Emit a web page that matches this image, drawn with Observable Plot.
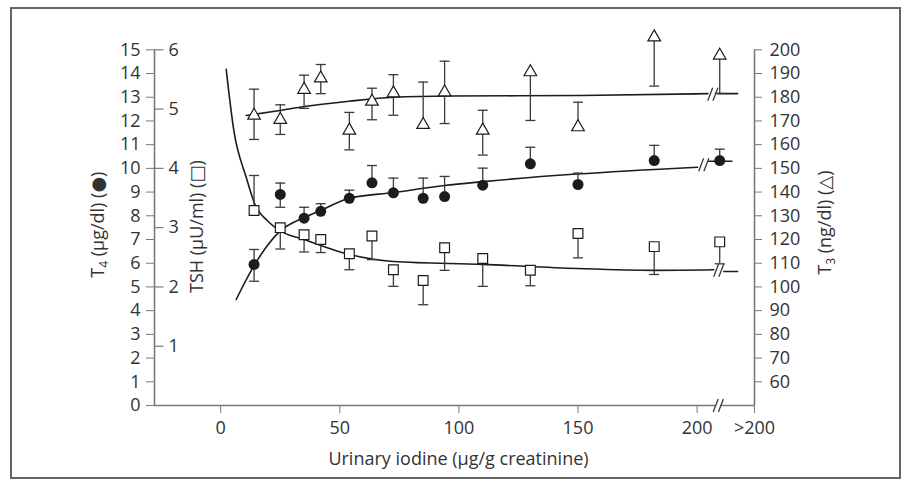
<!DOCTYPE html>
<html><head><meta charset="utf-8">
<script src="https://cdn.jsdelivr.net/npm/d3@7"></script>
<script src="https://cdn.jsdelivr.net/npm/@observablehq/plot@0.6"></script>
<style>
html,body{margin:0;padding:0;background:#fff;}
#wrap{position:relative;width:909px;height:486px;overflow:hidden;}
#border{position:absolute;left:10px;top:7px;width:887px;height:468px;border:2px solid #666;pointer-events:none;}
#chart svg{position:absolute;left:0;top:0;}
</style></head><body>
<div id="wrap"><div id="chart"></div><div id="border"></div></div>
<script>
// ---- data (x = urinary iodine, last group is ">200") ----
const xVals = [14, 25, 35, 42, 54, 63.5, 72.5, 85, 94, 110, 130, 150, 182, 209.5];

const t4   = [5.95, 8.90, 7.90, 8.19, 8.74, 9.39, 8.97, 8.74, 8.81, 9.29, 10.19, 9.32, 10.33, 10.33];
const t4Hi = [6.58, 9.38, 8.36, 8.51, 9.08, 10.12, 9.59, 9.59, 9.66, 10.01, 10.89, 9.80, 10.97, 10.81];
const t4Lo = [5.24, 8.36, null, null, null, null, null, null, null, null, null, null, null, null];

const tsh   = [3.29, 3.00, 2.88, 2.80, 2.56, 2.86, 2.29, 2.11, 2.66, 2.48, 2.28, 2.90, 2.68, 2.76];
const tshHi = [3.88, null, null, null, null, null, null, null, null, null, null, null, null, null];
const tshLo = [null, 2.64, 2.59, 2.58, 2.29, 2.46, 2.01, 1.70, 2.28, 2.01, 2.02, 2.49, 2.21, 2.39];

const t3   = [172.3, 170.5, 183.2, 188.0, 166.0, 178.2, 181.7, 168.4, 182.1, 166.0, 190.6, 167.4, 205.3, 197.6];
const t3Hi = [183.4, 176.8, 189.3, 193.8, 173.6, 183.8, 189.5, 186.4, 195.2, 174.5, null, 177.9, null, null];
const t3Lo = [162.2, 164.3, 175.3, 181.5, 157.8, 170.5, 172.4, null, 168.9, 155.6, 170.2, null, 184.7, 181.6];

// fitted curves
const t3CurveX = [10.7, 24.8, 35.1, 53.7, 72.6, 96.5, 151, 204.5];
const t3CurveY = [172.3, 174.4, 176.1, 178.3, 180.0, 180.5, 180.7, 181.5];
const t3TailX = [208.6, 217];
const t3TailY = [181.5, 181.5];

const t4CurveX = [6.5, 14.3, 24.8, 35.1, 41.8, 53.7, 72.6, 93.9, 110, 149.4, 200.2];
const t4CurveY = [4.47, 5.95, 7.34, 7.93, 8.22, 8.73, 8.98, 9.28, 9.44, 9.76, 10.05];
const t4TailX = [204.9, 214.6];
const t4TailY = [10.3, 10.3];

const tshCurveX = [2.3, 5.5, 10.7, 14.3, 19.5, 24.8, 35.1, 53.7, 72.6, 110, 149.6, 182.3, 207];
const tshCurveY = [5.67, 4.64, 3.85, 3.40, 3.12, 2.95, 2.80, 2.55, 2.43, 2.38, 2.31, 2.28, 2.29];
const tshTailX = [211.2, 217];
const tshTailY = [2.26, 2.26];

// axis ticks
const xTicks = [0, 50, 100, 150, 200];
const xOverLabel = ">200";
const t4Ticks = [0,1,2,3,4,5,6,7,8,9,10,11,12,13,14,15];
const tshTicks = [1, 2, 3, 4, 5, 6];
const t3Ticks = [60,70,80,90,100,110,120,130,140,150,160,170,180,190,200];

// scale-break locations: series, x, value
const breakSeries = ["t3", "t4", "tsh", "axis"];
const breakXs = [206.6, 202.8, 209.1, 208.9];
const breakVals = [181.3, 10.15, 2.28, 0];

// ---- layout constants ----
const xMin = -27.8, xMax = 224.1;
const axisGap = [207.8, 210.0];
const FS = 18;
const FONT = "'Open Sans', 'DejaVu Sans', sans-serif";

// T3 and TSH are drawn on the T4 (left) scale via their fixed axis relationships
const t3ToY = v => (v - 50) / 10;
const tshToY = v => v * 2.5;
const idY = v => v;
const conv = {t3: t3ToY, t4: idY, tsh: tshToY, axis: idY};

const pts = xVals.map((x, i) => ({
  x, t4: t4[i], t4Hi: t4Hi[i], t4Lo: t4Lo[i],
  tsh: tsh[i], tshHi: tshHi[i], tshLo: tshLo[i],
  t3: t3[i], t3Hi: t3Hi[i], t3Lo: t3Lo[i]
}));
const curve = (xs, ys, f) => xs.map((x, i) => ({x, y: f(ys[i])}));
const breaks = breakSeries.map((s, i) => ({x: breakXs[i], y: conv[s](breakVals[i])}));

const capSym = {draw(ctx, size) { const w = Math.sqrt(size / Math.PI); ctx.moveTo(-w, 0); ctx.lineTo(w, 0); }};
const breakSym = {draw(ctx, size) { for (const o of [-2.6, 2.6]) { ctx.moveTo(o - 2.5, 6.5); ctx.lineTo(o + 2.5, -6.5); } }};
const tickRightSym = {draw(ctx, size) { ctx.moveTo(0, 0); ctx.lineTo(9, 0); }};

const ink = "#1c1c1c", barInk = "#3a3a3a", axisInk = "#7a7a7a", textInk = "#333";

function errMarks(key, f) {
  const hiKey = key + "Hi", loKey = key + "Lo";
  return [
    Plot.ruleX(pts, {x: "x", y1: d => f(d[loKey] ?? d[key]), y2: d => f(d[hiKey] ?? d[key]), stroke: barInk, strokeWidth: 1.3}),
    Plot.dot(pts.filter(d => d[hiKey] != null), {x: "x", y: d => f(d[hiKey]), symbol: capSym, r: 5, fill: "none", stroke: barInk, strokeWidth: 1.3}),
    Plot.dot(pts.filter(d => d[loKey] != null), {x: "x", y: d => f(d[loKey]), symbol: capSym, r: 5, fill: "none", stroke: barInk, strokeWidth: 1.3})
  ];
}

const lineOpts = {x: "x", y: "y", curve: "monotone-x", stroke: ink, strokeWidth: 1.6};
const titleOpts = {textAnchor: "middle", lineAnchor: "middle", fontSize: FS, fill: textInk, fontFamily: FONT};

const chart = Plot.plot({
  width: 909, height: 486,
  marginLeft: 154, marginRight: 155, marginTop: 49.3, marginBottom: 81,
  x: {domain: [xMin, xMax]},
  y: {domain: [0, 15]},
  style: {fontFamily: FONT, fontSize: FS + "px", color: textInk, background: "transparent", overflow: "visible"},
  marks: [
    // axis lines
    Plot.ruleX([xMin], {y1: 0, y2: 15, stroke: axisInk, strokeWidth: 1.6}),
    Plot.ruleX([xMax], {y1: 0, y2: 15, stroke: axisInk, strokeWidth: 1.6}),
    Plot.ruleY([0], {x1: xMin, x2: axisGap[0], stroke: axisInk, strokeWidth: 1.6}),
    Plot.ruleY([0], {x1: axisGap[1], x2: xMax, stroke: axisInk, strokeWidth: 1.6}),
    // axes
    Plot.axisY(t4Ticks, {anchor: "left", tickSize: 8, tickPadding: 6, stroke: axisInk, fill: textInk, fontSize: FS, label: null}),
    Plot.dot(tshTicks, {y: tshToY, frameAnchor: "left", symbol: tickRightSym, fill: "none", stroke: axisInk, strokeWidth: 1.2}),
    Plot.text(tshTicks, {y: tshToY, text: d => String(d), frameAnchor: "left", dx: 14, textAnchor: "start", lineAnchor: "middle", fontSize: FS, fill: textInk}),
    Plot.axisY(t3Ticks.map(t3ToY), {anchor: "right", tickSize: 7, tickPadding: 8, tickFormat: d => String(Math.round(d * 10 + 50)), stroke: axisInk, fill: textInk, fontSize: FS, label: null}),
    Plot.axisX([...xTicks, xMax], {anchor: "bottom", tickSize: 8, tickPadding: 8, tickFormat: d => (d > 200 ? xOverLabel : String(d)), stroke: axisInk, fill: textInk, fontSize: FS, label: null}),
    // titles
    Plot.text(["Urinary iodine (µg/g creatinine)"], {...titleOpts, frameAnchor: "bottom", dx: 4, dy: 54}),
    Plot.text(["T4 (µg/dl) (●)"], {...titleOpts, frameAnchor: "left", dx: -56, dy: -3, rotate: -90}),
    Plot.text(["TSH (µU/ml) (□)"], {...titleOpts, frameAnchor: "left", dx: 43, dy: -1, rotate: -90}),
    Plot.text(["T3 (ng/dl) (△)"], {...titleOpts, frameAnchor: "right", dx: 71, dy: -5, rotate: -90}),
    // curves
    Plot.line(curve(t3CurveX, t3CurveY, t3ToY), lineOpts),
    Plot.line(curve(t3TailX, t3TailY, t3ToY), lineOpts),
    Plot.line(curve(t4CurveX, t4CurveY, idY), lineOpts),
    Plot.line(curve(t4TailX, t4TailY, idY), lineOpts),
    Plot.line(curve(tshCurveX, tshCurveY, tshToY), lineOpts),
    Plot.line(curve(tshTailX, tshTailY, tshToY), lineOpts),
    Plot.dot(breaks, {x: "x", y: "y", symbol: breakSym, fill: "none", stroke: barInk, strokeWidth: 1.3}),
    // error bars
    ...errMarks("t3", t3ToY),
    ...errMarks("t4", idY),
    ...errMarks("tsh", tshToY),
    // markers
    Plot.dot(pts, {x: "x", y: d => t3ToY(d.t3), symbol: "triangle", r: 4.7, fill: "white", stroke: ink, strokeWidth: 1.2}),
    Plot.dot(pts, {x: "x", y: d => tshToY(d.tsh), symbol: "square", r: 5.5, fill: "white", stroke: ink, strokeWidth: 1.2}),
    Plot.dot(pts, {x: "x", y: "t4", r: 5.5, fill: ink, stroke: "none"})
  ]
});
document.getElementById("chart").appendChild(chart);

// subscripts in axis titles
const subs = {"T4 (µg/dl) (●)": ["T", "4", " (µg/dl) (●)"], "T3 (ng/dl) (△)": ["T", "3", " (ng/dl) (△)"]};
chart.querySelectorAll("text").forEach(t => {
  const s = subs[t.textContent];
  if (!s) return;
  t.textContent = "";
  const ns = "http://www.w3.org/2000/svg";
  const a = document.createElementNS(ns, "tspan"); a.textContent = s[0];
  const b = document.createElementNS(ns, "tspan"); b.textContent = s[1];
  b.setAttribute("font-size", "12"); b.setAttribute("dy", "4");
  const c = document.createElementNS(ns, "tspan"); c.textContent = s[2]; c.setAttribute("dy", "-4");
  t.append(a, b, c);
});
</script>
</body></html>
